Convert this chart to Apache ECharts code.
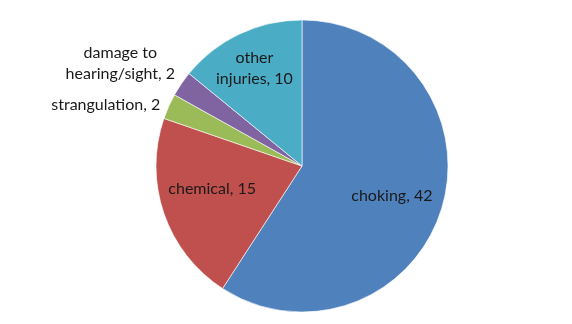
<!DOCTYPE html>
<html><head><meta charset="utf-8">
<script src="https://cdn.jsdelivr.net/npm/echarts@6/dist/echarts.min.js"></script>
<style>html,body{margin:0;padding:0;background:#fff}#c{width:572px;height:324px}</style>
</head><body><div id="c"></div>
<script>
const categories = ['choking', 'chemical', 'strangulation', 'damage to\nhearing/sight', 'other\ninjuries'];
const values = [42, 15, 2, 2, 10];
const colors = ['#4F81BD', '#C0504D', '#9BBB59', '#8064A2', '#4BACC6'];
const outside = [false, false, true, true, false];
const labelOffsets = [[17, 8], [-18, -2], [2, 1], [8, -17], [-15, -29]];

const chart = echarts.init(document.getElementById('c'));
chart.setOption({
  animation: false,
  series: [{
    type: 'pie',
    center: [302, 166],
    radius: 146,
    startAngle: 90,
    clockwise: true,
    avoidLabelOverlap: false,
    labelLayout: { hideOverlap: false },
    itemStyle: { borderColor: '#fff', borderWidth: 0.6 },
    data: categories.map((c, i) => ({
      name: c, value: values[i],
      itemStyle: { color: colors[i] },
      label: outside[i]
        ? { position: 'outside', offset: labelOffsets[i] }
        : { position: 'inside', offset: labelOffsets[i] },
      labelLine: { show: false, length: 6, length2: 0 }
    })),
    label: {
      formatter: p => {
        const lines = (p.name + ', ' + p.value).split('\n');
        if (outside[p.dataIndex] && lines.length > 1) {
          return lines.map(l => '{c|' + l + '}').join('\n');
        }
        return lines.join('\n');
      },
      rich: { c: { width: 118, align: 'center', fontFamily: 'Lato', fontSize: 16, color: '#1a1a1a', lineHeight: 21 } },
      fontFamily: 'Lato',
      fontSize: 16,
      color: '#1a1a1a',
      lineHeight: 21
    }
  }]
});
</script></body></html>
